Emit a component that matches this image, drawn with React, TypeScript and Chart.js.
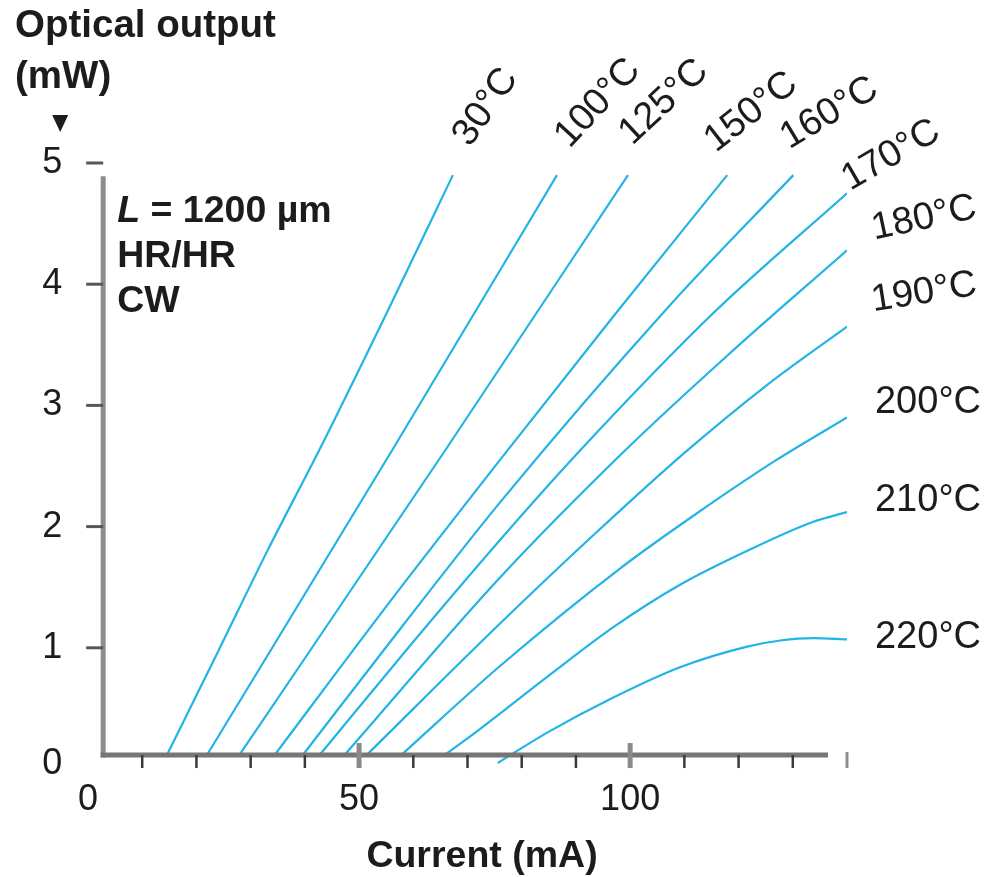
import React, { useEffect, useRef } from "react";
import { Chart, registerables } from "chart.js";

Chart.register(...registerables);

// ---- Data (current in mA, optical output in mW) ----
const SERIES_NAMES = ["30°C", "100°C", "125°C", "150°C", "160°C", "170°C", "180°C", "190°C", "200°C", "210°C", "220°C"];

const I_30 = [14.6, 24.0, 33.2, 43.2, 55.5, 67.3];
const P_30 = [0.12, 0.97, 1.81, 2.68, 3.8, 4.9];
const I_100 = [22.0, 56.1, 86.5];
const P_100 = [0.12, 2.63, 4.9];
const I_125 = [28.0, 65.9, 99.6];
const P_125 = [0.12, 2.63, 4.9];
const I_150 = [34.5, 55.0, 76.0, 97.0, 117.9];
const P_150 = [0.12, 1.34, 2.55, 3.74, 4.9];
const I_160 = [39.7, 58.0, 76.0, 106.8, 130.1];
const P_160 = [0.12, 1.18, 2.2, 3.8, 4.9];
const I_170 = [42.8, 60.0, 76.0, 90.8, 115.3, 140];
const P_170 = [0.12, 1.05, 1.89, 2.63, 3.76, 4.75];
const I_180 = [47.4, 76.0, 99.1, 117.9, 140];
const P_180 = [0.12, 1.58, 2.63, 3.41, 4.28];
const I_190 = [51.5, 76.0, 93.0, 109.8, 125.0, 140];
const P_190 = [0.12, 1.2, 1.92, 2.6, 3.16, 3.65];
const I_200 = [57.9, 76.0, 98.0, 112.0, 127.0, 140];
const P_200 = [0.12, 0.85, 1.65, 2.1, 2.55, 2.9];
const I_210 = [65.9, 72.3, 84.7, 96.9, 109.2, 121.6, 133.8, 140];
const P_210 = [0.12, 0.33, 0.76, 1.17, 1.52, 1.8, 2.04, 2.12];
const I_220 = [75.6, 84.7, 96.9, 109.2, 121.6, 127.7, 133.8, 140];
const P_220 = [0.05, 0.3, 0.59, 0.84, 1.01, 1.06, 1.08, 1.07];

const CURRENTS = [I_30, I_100, I_125, I_150, I_160, I_170, I_180, I_190, I_200, I_210, I_220];
const POWERS = [P_30, P_100, P_125, P_150, P_160, P_170, P_180, P_190, P_200, P_210, P_220];

const X_LABEL_TICKS = [0, 50, 100];
const X_MINOR_TICKS = [10, 20, 30, 40, 60, 70, 80, 90, 110, 120, 130, 140];
const X_MAJOR_TICKS = [50, 100];
const Y_TICKS = [0, 1, 2, 3, 4, 5];

const Y_TITLE = ["Optical output", "(mW)"];
const X_TITLE = "Current (mA)";
const NOTE_L = "L";
const NOTE_LINES = [" = 1200 µm", "HR/HR", "CW"];

// ---- Layout / style (not data) ----
const AXIS_X0 = 2.8; // where the drawn y-axis line sits (mA)
const AXIS_Y0 = 0.115; // where the drawn x-axis line sits (mW)
const Y_AXIS_TOP = 4.89;
const X_AXIS_END = 136.5;
// label placement relative to each curve's last point: [dx, dy, angleDeg]
const LABEL_LAYOUT: number[][] = [
  [33, -68, 55],
  [41, -72, 47],
  [36, -73, 43],
  [24, -63, 38],
  [36, -62, 31],
  [44, -38, 30],
  [77, -32, 12],
  [77, -34, 9],
  [81, -15, 0],
  [81, -12, 0],
  [81, -2, 0],
];
const LINE_COLOR = "#22b4e4";
const TEXT_COLOR = "#1c1c1c";
const FONT = "'Liberation Sans', Arial, Helvetica, sans-serif";

const decor = {
  id: "decor",
  afterDatasetsDraw(chart: any) {
    const ctx: CanvasRenderingContext2D = chart.ctx;
    const xs = chart.scales.x;
    const ys = chart.scales.y;
    const X = (v: number) => xs.getPixelForValue(v);
    const Y = (v: number) => ys.getPixelForValue(v);
    ctx.save();
    ctx.lineCap = "butt";

    const ax = X(AXIS_X0);
    const ay = Y(AXIS_Y0);

    // y axis line
    ctx.strokeStyle = "#8d8d8d";
    ctx.lineWidth = 5;
    ctx.beginPath();
    ctx.moveTo(ax, Y(Y_AXIS_TOP));
    ctx.lineTo(ax, ay + 2.5);
    ctx.stroke();

    // x axis line
    ctx.strokeStyle = "#767676";
    ctx.beginPath();
    ctx.moveTo(ax - 2.5, ay);
    ctx.lineTo(X(X_AXIS_END), ay);
    ctx.stroke();

    // x minor ticks
    X_MINOR_TICKS.forEach((v) => {
      const beyond = v > X_AXIS_END;
      ctx.strokeStyle = beyond ? "#8d8d8d" : "#3a3a3a";
      ctx.lineWidth = beyond ? 3 : 2.5;
      ctx.beginPath();
      ctx.moveTo(X(v), ay - (beyond ? 3 : 0));
      ctx.lineTo(X(v), ay + 13);
      ctx.stroke();
    });
    // x major ticks
    X_MAJOR_TICKS.forEach((v) => {
      ctx.strokeStyle = "#8a8a8a";
      ctx.lineWidth = 5;
      ctx.beginPath();
      ctx.moveTo(X(v), ay - 12);
      ctx.lineTo(X(v), ay + 13);
      ctx.stroke();
    });
    // y ticks
    Y_TICKS.forEach((v) => {
      if (v === 0) return;
      ctx.strokeStyle = "#585858";
      ctx.lineWidth = 3;
      ctx.beginPath();
      ctx.moveTo(ax - 17, Y(v));
      ctx.lineTo(ax, Y(v));
      ctx.stroke();
    });

    ctx.fillStyle = TEXT_COLOR;
    // tick labels
    ctx.font = `36px ${FONT}`;
    ctx.textAlign = "center";
    ctx.textBaseline = "middle";
    Y_TICKS.forEach((v) => {
      ctx.fillText(String(v), ax - 51, Y(v) - (v === 0 ? 5 : 0));
    });
    X_LABEL_TICKS.forEach((v) => {
      ctx.fillText(String(v), X(v), Y(0) + 31);
    });

    // series labels
    ctx.font = `38px ${FONT}`;
    chart.data.datasets.forEach((ds: any, i: number) => {
      const last = ds.data[ds.data.length - 1];
      const [dx, dy, ang] = LABEL_LAYOUT[i];
      ctx.save();
      ctx.translate(X(last.x) + dx, Y(last.y) + dy);
      ctx.rotate((-ang * Math.PI) / 180);
      ctx.textAlign = "center";
      ctx.textBaseline = "middle";
      ctx.fillText(ds.label, 0, 0);
      ctx.restore();
    });

    // y title (top-left)
    ctx.textAlign = "left";
    ctx.textBaseline = "alphabetic";
    ctx.font = `bold 38.5px ${FONT}`;
    ctx.fillText(Y_TITLE[0], 15, 37);
    ctx.fillText(Y_TITLE[1], 15, 88);

    // arrow triangle
    const tx = ax - 43;
    const ty = Y(5) - 48;
    ctx.beginPath();
    ctx.moveTo(tx - 8, ty);
    ctx.lineTo(tx + 8, ty);
    ctx.lineTo(tx, ty + 17);
    ctx.closePath();
    ctx.fill();

    // x title
    ctx.font = `bold 37.5px ${FONT}`;
    ctx.textAlign = "center";
    ctx.fillText(X_TITLE, 482, 867);

    // note
    ctx.textAlign = "left";
    const nx = ax + 14;
    ctx.font = `italic bold 37.5px ${FONT}`;
    ctx.fillText(NOTE_L, nx, 222);
    const lw = ctx.measureText(NOTE_L).width;
    ctx.font = `bold 37.5px ${FONT}`;
    ctx.fillText(NOTE_LINES[0], nx + lw, 222);
    ctx.fillText(NOTE_LINES[1], nx, 267);
    ctx.fillText(NOTE_LINES[2], nx, 312);

    ctx.restore();
  },
};

export default function App() {
  const ref = useRef<HTMLCanvasElement | null>(null);

  useEffect(() => {
    document.body.style.margin = "0";
    const canvas = ref.current;
    if (!canvas) return;
    const datasets = SERIES_NAMES.map((name, i) => ({
      label: name,
      data: CURRENTS[i].map((x, j) => ({ x, y: POWERS[i][j] })),
      borderColor: LINE_COLOR,
      borderWidth: 2.2,
      pointRadius: 0,
      fill: false,
      cubicInterpolationMode: "monotone" as const,
    }));
    const chart = new Chart(canvas, {
      type: "line",
      data: { datasets },
      options: {
        animation: false,
        responsive: false,
        maintainAspectRatio: false,
        layout: { padding: { left: 88, right: 145, top: 163, bottom: 108 } },
        plugins: { legend: { display: false }, tooltip: { enabled: false }, title: { display: false } },
        scales: {
          x: { type: "linear", min: 0, max: 140, display: false },
          y: { type: "linear", min: 0, max: 5, display: false },
        },
      },
      plugins: [decor],
    });
    return () => chart.destroy();
  }, []);

  return (
    <div style={{ width: 992, height: 877, background: "#fff" }}>
      <canvas ref={ref} width={992} height={877} style={{ display: "block" }} />
    </div>
  );
}
